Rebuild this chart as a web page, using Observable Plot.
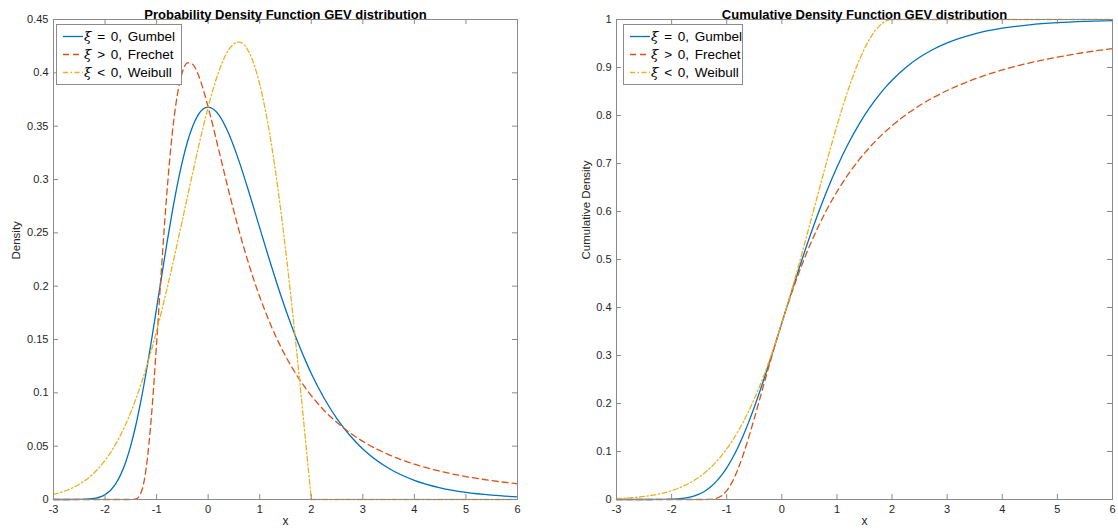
<!DOCTYPE html>
<html><head><meta charset="utf-8">
<script src="https://cdn.jsdelivr.net/npm/d3@7"></script>
<script src="https://cdn.jsdelivr.net/npm/@observablehq/plot@0.6"></script>
<style>
body{margin:0;background:#fff;font-family:"Liberation Sans",Arial,Helvetica,sans-serif;}
#wrap{position:relative;width:1118px;height:530px;overflow:hidden;background:#fff;}
.panel{position:absolute;top:0;}
.legend{position:absolute;top:24px;height:61px;background:#fff;border:1px solid #8c8c8c;box-sizing:border-box;font-size:13.5px;color:#000;word-spacing:2px;}
.row{position:absolute;left:0;height:18px;line-height:18px;white-space:nowrap;}
.row svg{position:absolute;left:5px;top:0;}
.row span{position:absolute;left:27px;top:0;}
.row i{font-family:"DejaVu Serif","Liberation Serif",serif;}
</style></head><body><div id="wrap"></div>
<script>
// x positions of the sampled curve values
const xs = [-3,-2.75,-2.5,-2.25,-2,-1.8,-1.6,-1.5,-1.4,-1.3,-1.2,-1.1,-1,-0.9,-0.8,-0.7,-0.6,-0.5,-0.4,-0.3,-0.2,-0.1,0,0.2,0.4,0.6,0.8,1,1.2,1.4,1.6,1.8,1.9,2,2.25,2.5,2.75,3,3.5,4,4.5,5,5.5,6];

// Probability density values
const gumbelPdf = [0,0,0.00006,0.00072,0.00457,0.01426,0.03496,0.0507,0.0703,0.0936,0.1200,0.1490,0.1794,0.2102,0.2403,0.2688,0.2946,0.3170,0.3356,0.3500,0.3601,0.3660,0.3679,0.3611,0.3429,0.3170,0.2867,0.2546,0.2229,0.1927,0.1650,0.1401,0.1288,0.1182,0.0949,0.0756,0.0600,0.0474,0.0293,0.0180,0.0110,0.0067,0.0041,0.0025];
const frechetPdf = [0,0,0,0,0,0,0,0.00001,0.00055,0.00664,0.03016,0.07863,0.14653,0.2205,0.2879,0.3415,0.3788,0.4006,0.4094,0.4080,0.3991,0.3852,0.3679,0.3288,0.2890,0.2519,0.2188,0.1900,0.1652,0.1440,0.1259,0.1105,0.1037,0.0974,0.0835,0.0721,0.0625,0.0545,0.0421,0.0331,0.0265,0.0215,0.0177,0.0147];
const weibullPdf = [0.00483,0.00843,0.01424,0.02324,0.03663,0.0514,0.0705,0.08185,0.09448,0.10841,0.12369,0.14027,0.1581,0.17706,0.1972,0.21819,0.23988,0.26201,0.28432,0.30641,0.32802,0.34864,0.36788,0.40037,0.42183,0.42884,0.41861,0.3894,0.34086,0.27418,0.19216,0.099,0.04988,0,0,0,0,0,0,0,0,0,0,0];

// Cumulative density values
const gumbelCdf = [0,0,0.000005,0.000076,0.00062,0.00236,0.00706,0.0113,0.0173,0.0255,0.0362,0.0496,0.0660,0.0855,0.1080,0.1335,0.1617,0.1923,0.2250,0.2593,0.2948,0.3312,0.3679,0.4410,0.5116,0.5777,0.6381,0.6922,0.7400,0.7815,0.8172,0.8476,0.8611,0.8734,0.9000,0.9212,0.9381,0.9514,0.9703,0.9819,0.9890,0.9933,0.9959,0.9975];
const frechetCdf = [0,0,0,0,0,0,0,0,0.000015,0.000285,0.00193,0.00717,0.0183,0.0367,0.0622,0.0938,0.1299,0.1690,0.2096,0.2506,0.2910,0.3302,0.3679,0.4376,0.4994,0.5534,0.6004,0.6412,0.6766,0.7075,0.7344,0.7581,0.7688,0.7788,0.8014,0.8208,0.8375,0.8521,0.8761,0.8948,0.9097,0.9216,0.9314,0.9394];
const weibullCdf = [0.00193,0.00355,0.00633,0.01094,0.0183,0.0271,0.0392,0.0468,0.0556,0.0657,0.0773,0.0905,0.1054,0.1221,0.1409,0.1616,0.1845,0.2096,0.2369,0.2664,0.2982,0.3320,0.3679,0.4449,0.5273,0.6126,0.6977,0.7788,0.8521,0.9139,0.9608,0.9900,0.9975,1,1,1,1,1,1,1,1,1,1,1];

const xTicks = [-3,-2,-1,0,1,2,3,4,5,6];
const pdfTicks = [0,0.05,0.1,0.15,0.2,0.25,0.3,0.35,0.4,0.45];
const cdfTicks = [0,0.1,0.2,0.3,0.4,0.5,0.6,0.7,0.8,0.9,1];
const seriesNames = ["\u03be = 0, Gumbel","\u03be > 0, Frechet","\u03be < 0, Weibull"];
const titles = ["Probability Density Function GEV distribution","Cumulative Density Function GEV distribution"];
const yLabels = ["Density","Cumulative Density"];

const colors = ["#0072BD","#D95319","#EDB120"];
const dashes = [null,"6,4","5,2.5,1.5,2.5"];
const rows = arr => xs.map((x,i)=>({x, y: arr[i]}));
const fmt = d => String(+d.toFixed(2));
const axisColor = "#8a8a8a";

function panel(opts){
  const W = 559, H = 530;
  const plotW = W - opts.ml - opts.mr, plotH = H - 19 - 31;
  const tl = 5;
  const marks = [
    Plot.axisX({ticks: xTicks, tickSize: 0, tickPadding: 6, label: null, tickFormat: fmt}),
    Plot.axisY({ticks: opts.yTicks, tickSize: 0, tickPadding: 5, label: null, tickFormat: fmt}),
  ];
  opts.series.forEach((s,k)=>{
    const d = rows(s);
    const common = {x:"x", y:"y", stroke: colors[k], strokeWidth: 1.3, curve: "monotone-x", strokeDasharray: dashes[k]};
    if (opts.split && k===2) {
      marks.push(Plot.line(d.filter(p=>p.x<=2), common));
      marks.push(Plot.line(d.filter(p=>p.x>=2), common));
    } else {
      marks.push(Plot.line(d, common));
    }
  });
  marks.push(
    Plot.tickY(opts.yTicks, {stroke: axisColor, insetRight: plotW - tl}),
    Plot.tickY(opts.yTicks, {stroke: axisColor, insetLeft: plotW - tl}),
    Plot.tickX(xTicks, {stroke: axisColor, insetTop: plotH - tl}),
    Plot.tickX(xTicks, {stroke: axisColor, insetBottom: plotH - tl}),
    Plot.frame({stroke: axisColor}),
    Plot.text([opts.title], {frameAnchor:"top", dy:-10, fontWeight:"bold", fontSize: 13, fill:"#000"}),
    Plot.text([opts.ylabel], {frameAnchor:"left", dx: opts.ylx - opts.ml, rotate:-90, fontSize: 11.5, fill:"#262626"}),
    Plot.text(["x"], {frameAnchor:"bottom", dy: 25, fontSize: 12, fill:"#262626"})
  );
  const svg = Plot.plot({
    width: W, height: H,
    marginLeft: opts.ml, marginRight: opts.mr, marginTop: 19, marginBottom: 31,
    x: {domain: [-3, 6]}, y: {domain: opts.yDomain},
    style: {fontFamily: '"Liberation Sans", Arial, Helvetica, sans-serif', fontSize: "11px", color: "#262626", background: "white"},
    marks
  });
  svg.classList.add("panel");
  svg.style.left = opts.left + "px";
  return svg;
}

function legend(left, width){
  const div = document.createElement("div");
  div.className = "legend";
  div.style.left = left + "px";
  div.style.width = width + "px";
  seriesNames.forEach((name,k)=>{
    const r = document.createElement("div");
    r.className = "row";
    r.style.top = (2 + 18*k) + "px";
    const parts = name.split(" ");
    r.innerHTML = `<svg width="22" height="18"><line x1="1" x2="21" y1="9.5" y2="9.5" stroke="${colors[k]}" stroke-width="1.3" ${dashes[k]?`stroke-dasharray="${dashes[k]}"`:""}/></svg><span><i>${parts[0]}</i> ${parts.slice(1).join(" ")}</span>`;
    div.appendChild(r);
  });
  return div;
}

const wrap = document.getElementById("wrap");
wrap.appendChild(panel({left:0, ml:53, mr:42, yDomain:[0,0.45], yTicks: pdfTicks, series:[gumbelPdf, frechetPdf, weibullPdf], split:true, title: titles[0], ylabel: yLabels[0], ylx: 16}));
wrap.appendChild(panel({left:559, ml:57, mr:6, yDomain:[0,1], yTicks: cdfTicks, series:[gumbelCdf, frechetCdf, weibullCdf], split:false, title: titles[1], ylabel: yLabels[1], ylx: 27}));
wrap.appendChild(legend(56, 126));
wrap.appendChild(legend(623, 120));
</script></body></html>
